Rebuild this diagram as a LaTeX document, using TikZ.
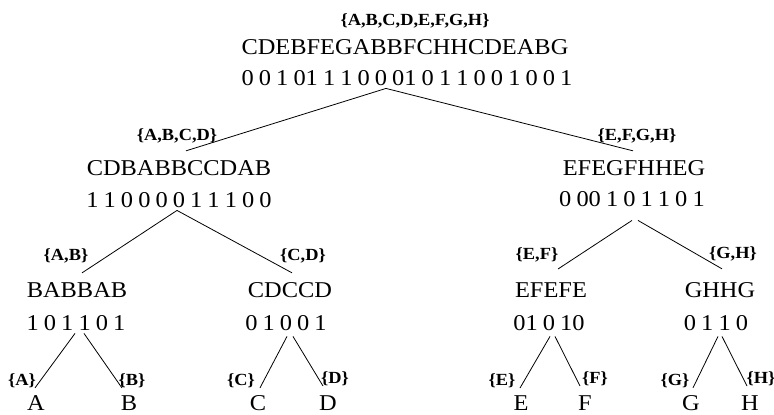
\documentclass[tikz,border=0pt]{standalone}
\usepackage{fontspec}
\setmainfont{Liberation Serif}[FakeStretch=1.08]
\newcommand\bitgap{\spaceskip=5.1pt\relax}

\begin{document}
\begin{tikzpicture}[
  x=1pt, y=-1pt,
  seq/.style={anchor=base, inner xsep=0pt, inner ysep=9pt, font=\fontsize{22.6}{26}\selectfont},
  bits/.style={anchor=base, inner sep=1pt, font=\fontsize{22.6}{26}\selectfont\bitgap},
  set/.style={anchor=base, inner sep=0pt, font=\fontsize{17}{20}\selectfont\bfseries},
  edge/.style={line width=0.8pt}
]
\useasboundingbox (0,0) rectangle (774,415);

% root
\node[set]  (l)   at (415,25)  {\{A,B,C,D,E,F,G,H\}};
\node[seq]  (s)   at (405,54)  {CDEBFEGABBFCHHCDEABG};
\node[bits] (b)   at (407,85)  {0 0 1 01 1 1 0 0 01 0 1 1 0 0 1 0 0 1};

% level 1
\node[set]  (l0)  at (177,140) {\{A,B,C,D\}};
\node[seq]  (s0)  at (179,175) {CDBABBCCDAB};
\node[bits] (b0)  at (179,207) {1 1 0 0 0 0 1 1 1 0 0};

\node[set]  (l1)  at (637,140) {\{E,F,G,H\}};
\node[seq]  (s1)  at (634,175) {EFEGFHHEG};
\node[bits] (b1)  at (632,206) {0 00 1 0 1 1 0 1};

% level 2
\node[set]  (l00) at (66,260)  {\{A,B\}};
\node[seq]  (s00) at (77,297)  {BABBAB};
\node[bits] (b00) at (76,330)  {1 0 1 1 0 1};

\node[set]  (l01) at (303,260) {\{C,D\}};
\node[seq]  (s01) at (290,297) {CDCCD};
\node[bits] (b01) at (286,330) {0 1 0 0 1};

\node[set]  (l10) at (537,259) {\{E,F\}};
\node[seq]  (s10) at (551,297) {EFEFE};
\node[bits] (b10) at (549,330) {01 0 10};

\node[set]  (l11) at (733,258) {\{G,H\}};
\node[seq]  (s11) at (720,297) {GHHG};
\node[bits] (b11) at (716,330) {0 1 1 0};

% leaves
\node[set] (lA) at (22,385)  {\{A\}};  \node[seq] (A) at (36,410)  {A};
\node[set] (lB) at (132,385) {\{B\}};  \node[seq] (B) at (129,410) {B};
\node[set] (lC) at (241,385) {\{C\}};  \node[seq] (C) at (258,410) {C};
\node[set] (lD) at (335,383) {\{D\}};  \node[seq] (D) at (328,410) {D};
\node[set] (lE) at (502,385) {\{E\}};  \node[seq] (E) at (521,410) {E};
\node[set] (lF) at (595,383) {\{F\}};  \node[seq] (F) at (585,410) {F};
\node[set] (lG) at (675,385) {\{G\}};  \node[seq] (G) at (691,410) {G};
\node[set] (lH) at (761,383) {\{H\}};  \node[seq] (H) at (750,410) {H};

% edges
\draw[edge] ([xshift=-21pt,yshift=-2pt]b.south) -- ([xshift=7pt]s0.north);
\draw[edge] ([xshift=-21pt,yshift=-2pt]b.south) -- ([xshift=-1pt]s1.north);

\draw[edge] ([xshift=-2pt,yshift=-2pt]b0.south) -- ([xshift=5pt]s00.north);
\draw[edge] ([xshift=-2pt,yshift=-2pt]b0.south) -- ([xshift=2pt]s01.north);
\draw[edge] ([yshift=-13pt]b1.south) -- ([xshift=7pt,yshift=4pt]s10.north);
\draw[edge] ([xshift=6pt,yshift=-13pt]b1.south) -- ([xshift=2pt,yshift=4pt]s11.north);

\draw[edge] ([xshift=-1pt,yshift=-2pt]b00.south) -- ([xshift=-1pt,yshift=-2pt]A.north);
\draw[edge] ([xshift=8pt,yshift=-2pt]b00.south) -- ([xshift=-7pt,yshift=-2pt]B.north);
\draw[edge] ([xshift=1pt,yshift=-5pt]b01.south) -- ([xshift=2pt,yshift=-2pt]C.north);
\draw[edge] ([xshift=7pt,yshift=-5pt]b01.south) -- ([xshift=-5pt]D.north);
\draw[edge] ([xshift=1pt,yshift=-5pt]b10.south) -- ([xshift=-1pt,yshift=-2pt]E.north);
\draw[edge] ([xshift=6pt,yshift=-5pt]b10.south) -- ([xshift=-5pt]F.north);
\draw[edge] ([xshift=2pt,yshift=-5pt]b11.south) -- ([xshift=2pt,yshift=-2pt]G.north);
\draw[edge] ([xshift=6pt,yshift=-5pt]b11.south) -- ([xshift=-3pt]H.north);
\end{tikzpicture}
\end{document}
